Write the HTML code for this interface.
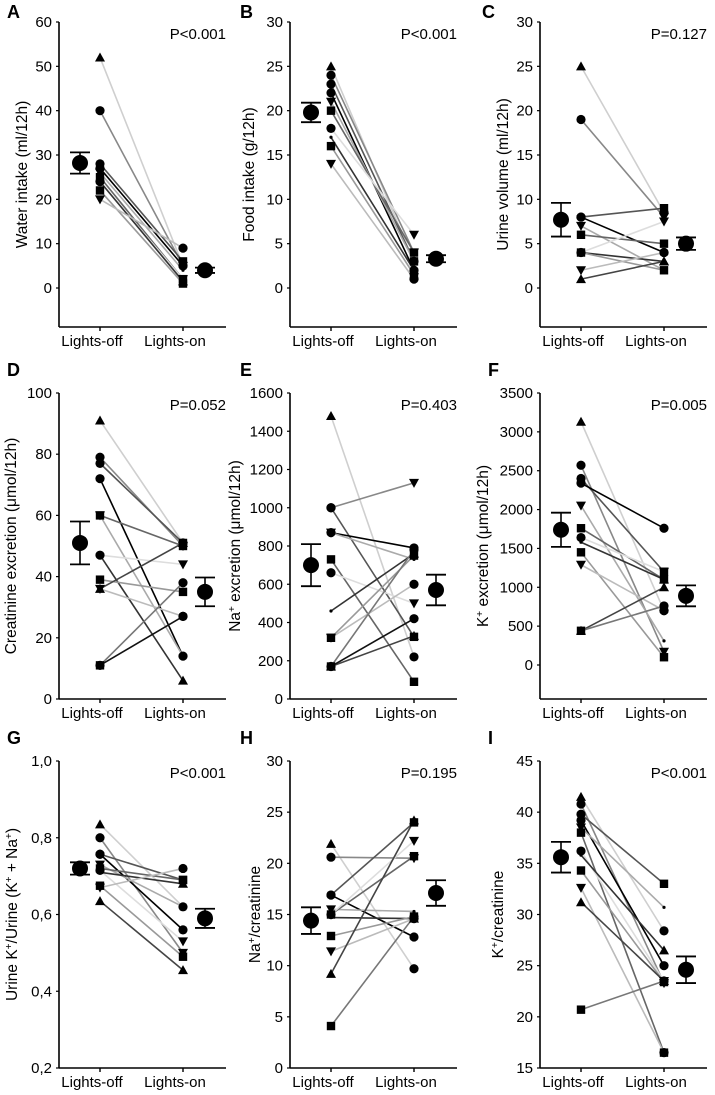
<!DOCTYPE html>
<html><head><meta charset="utf-8"><style>
body{margin:0;background:#fff;}
svg{display:block;font-family:"Liberation Sans",Arial,sans-serif;}
</style></head><body>
<svg id="fig" width="715" height="1095" viewBox="0 0 715 1095" xmlns="http://www.w3.org/2000/svg"></svg>
<script>
// ---- data ----
const aOff=[52,40,28,27,26,25,24,24,22,20];
const aOn=[5,5,6,5,4,2,2,1.5,1,9];
const aMean=[28.2,4.0]; const aErr=[2.4,0.6];
const bOff=[25,24,23,22,21,20,18,17,16,14];
const bOn=[3,4,3,2,3,4,6,2,1.5,1];
const bMean=[19.8,3.3]; const bErr=[1.1,0.4];
const cOff=[25,19,8,8,7,6,4,4,4,2,1];
const cOn=[8.5,8,9,4,2,5,7.5,3,2,4,3];
const cMean=[7.7,5.0]; const cErr=[1.9,0.7];
const dOff=[91,79,77,72,60,60,47,47,39,36,36,11,11];
const dOn=[51,50,51,14,14,50,44,6,35,27,51,38,27];
const dMean=[51,35]; const dErr=[7,4.7];
const eOff=[1480,1000,1000,870,870,730,660,460,320,320,170,170,170];
const eOn=[220,1130,325,790,730,90,500,760,750,600,330,780,420];
const eMean=[700,570]; const eErr=[110,80];
const fOff=[3130,2570,2400,2340,2050,1760,1640,1580,1450,1290,440,440];
const fOn=[700,170,1200,1760,310,1100,1200,1100,100,700,1000,760];
const fMean=[1740,890]; const fErr=[220,135];
const gOff=[0.835,0.80,0.757,0.757,0.73,0.72,0.715,0.71,0.675,0.67,0.635];
const gOn=[0.62,0.50,0.69,0.56,0.62,0.69,0.53,0.68,0.49,0.72,0.455];
const gMean=[0.72,0.59]; const gErr=[0.016,0.025];
const hOff=[21.9,20.6,16.9,16.9,15.5,15,15,14.7,12.9,11.4,9.2,4.1];
const hOn=[9.7,20.5,24,12.8,15.3,20.7,22.2,14.6,14.8,14.6,24.2,14.8];
const hMean=[14.4,17.1]; const hErr=[1.3,1.25];
const iOff=[41.5,40.8,39.8,39.2,38.5,38,36.2,35.8,34.3,32.6,31.2,20.7];
const iOn=[28.4,23.3,33,25,30.7,16.5,23.5,26.5,23.4,16.5,23.5,23.5];
const iMean=[35.6,24.6]; const iErr=[1.5,1.3];

const NS="http://www.w3.org/2000/svg";
const svg=document.getElementById('fig');
function mk(tag,attrs,parent){const e=document.createElementNS(NS,tag);for(const k in attrs)e.setAttribute(k,attrs[k]);(parent||svg).appendChild(e);return e;}
const shapesCycle=['tri','circ','circ','circ','tdown','sq','circ','dot','sq','tdown','tri','sq','circ'];
const greys=['#cfcfcf','#888','#555','#000','#aaa','#666','#ddd','#333','#999','#bbb','#444','#777','#111'];

function marker(g,x,y,s,name){
  let e;
  if(s==='circ'){e=mk('circle',{cx:x,cy:y,r:4.6,fill:'#000'},g);}
  else if(s==='sq'){e=mk('rect',{x:x-4.2,y:y-4.2,width:8.4,height:8.4,fill:'#000'},g);}
  else if(s==='tri'){e=mk('polygon',{points:`${x},${y-5} ${x-5},${y+4} ${x+5},${y+4}`,fill:'#000'},g);}
  else if(s==='tdown'){e=mk('polygon',{points:`${x},${y+5} ${x-5},${y-4} ${x+5},${y-4}`,fill:'#000'},g);}
  else {e=mk('circle',{cx:x,cy:y,r:1.6,fill:'#000'},g);}
  
  
}

function panel(p){
  const g=mk('g',{});
  
  
  const ax=p.ax, top=p.top, bot=p.bot, xEnd=ax+167;
  const yS=v=>p.y0px-(v-p.v0)/(p.vTop-p.v0)*(p.y0px-top);
  const xOff=ax+41, xOn=ax+124, xmOff=ax+21, xmOn=ax+146;
  const L=mk('text',{x:p.lx,y:p.ly,'font-size':18,'font-weight':'bold'},g);L.textContent=p.letter;
  
  const ya=mk('line',{x1:ax,y1:top,x2:ax,y2:bot,stroke:'#000','stroke-width':1.6},g);
  
  const xa=mk('line',{x1:ax,y1:bot,x2:xEnd,y2:bot,stroke:'#000','stroke-width':1.6},g);
  
  p.ticks.forEach(t=>{
    const y=yS(t);
    mk('line',{x1:ax-3,y1:y,x2:ax,y2:y,stroke:'#000','stroke-width':1.2},g);
    const tx=mk('text',{x:ax-7,y:y+5,'font-size':15,'text-anchor':'end'},g);
    tx.textContent=p.fmt?p.fmt(t):String(t);
    
  });
  [[xOff,'Lights-off'],[xOn,'Lights-on']].forEach(([x,s])=>{
    mk('line',{x1:x,y1:bot,x2:x,y2:bot+4,stroke:'#000','stroke-width':1.4},g);
    const tx=mk('text',{x:x-8,y:bot+19,'font-size':15,'text-anchor':'middle'},g);tx.textContent=s;
    
  });
  const cy=(top+bot)/2, tx0=ax-p.toff+5;
  const tt=mk('text',{x:tx0,y:cy,'font-size':15.5,'text-anchor':'middle',transform:`rotate(-90 ${tx0} ${cy})`},g);
  tt.innerHTML=p.title;
  
  const pv=mk('text',{x:xEnd,y:top+17,'font-size':15,'text-anchor':'end'},g);pv.textContent=p.pval;
  
  for(let i=0;i<p.off.length;i++){
    const ln=mk('line',{x1:xOff,y1:yS(p.off[i]),x2:xOn,y2:yS(p.on[i]),stroke:greys[i%greys.length],'stroke-width':1.6},g);
    
  }
  for(let i=0;i<p.off.length;i++){
    marker(g,xOff,yS(p.off[i]),shapesCycle[i%shapesCycle.length],'point-lights-off');
    marker(g,xOn,yS(p.on[i]),shapesCycle[(i+3)%shapesCycle.length],'point-lights-on');
  }
  [[xmOff,0],[xmOn,1]].forEach(([x,k])=>{
    const m=p.mean[k], e=p.err[k];
    const gg=mk('g',{},g);
    
    mk('line',{x1:x,y1:yS(m-e),x2:x,y2:yS(m+e),stroke:'#000','stroke-width':1.6},gg);
    mk('line',{x1:x-10,y1:yS(m-e),x2:x+10,y2:yS(m-e),stroke:'#000','stroke-width':1.8},gg);
    mk('line',{x1:x-10,y1:yS(m+e),x2:x+10,y2:yS(m+e),stroke:'#000','stroke-width':1.8},gg);
    mk('circle',{cx:x,cy:yS(m),r:8,fill:'#000'},gg);
  });
}
const r=(a,b,s)=>{const o=[];for(let v=a;v<=b+1e-9;v+=s)o.push(Math.round(v*100)/100);return o;};
const sup='<tspan baseline-shift="super" font-size="10">+</tspan>';
const c1=59,c2=290,c3=540;
panel({letter:'A',lx:7,ly:18,toff:37,ax:c1,top:22,bot:327,y0px:288,v0:0,vTop:60,ticks:r(0,60,10),title:'Water intake (ml/12h)',pval:'P<0.001',off:aOff,on:aOn,mean:aMean,err:aErr});
panel({letter:'B',lx:240,ly:18,toff:41,ax:c2,top:22,bot:327,y0px:288,v0:0,vTop:30,ticks:r(0,30,5),title:'Food intake (g/12h)',pval:'P<0.001',off:bOff,on:bOn,mean:bMean,err:bErr});
panel({letter:'C',lx:482,ly:18,toff:37,ax:c3,top:22,bot:327,y0px:288,v0:0,vTop:30,ticks:r(0,30,5),title:'Urine volume (ml/12h)',pval:'P=0.127',off:cOff,on:cOn,mean:cMean,err:cErr});
panel({letter:'D',lx:7,ly:376,toff:48,ax:c1,top:393,bot:699,y0px:699,v0:0,vTop:100,ticks:r(0,100,20),title:'Creatinine excretion (μmol/12h)',pval:'P=0.052',off:dOff,on:dOn,mean:dMean,err:dErr});
panel({letter:'E',lx:240,ly:376,toff:55,ax:c2,top:393,bot:699,y0px:699,v0:0,vTop:1600,ticks:r(0,1600,200),title:'Na'+sup+' excretion (μmol/12h)',pval:'P=0.403',off:eOff,on:eOn,mean:eMean,err:eErr});
panel({letter:'F',lx:488,ly:376,toff:57,ax:c3,top:393,bot:699,y0px:665,v0:0,vTop:3500,ticks:r(0,3500,500),title:'K'+sup+' excretion (μmol/12h)',pval:'P=0.005',off:fOff,on:fOn,mean:fMean,err:fErr});
panel({letter:'G',lx:7,ly:744,toff:47,ax:c1,top:761,bot:1068,y0px:1068,v0:0.2,vTop:1.0,ticks:r(0.2,1.0,0.2),fmt:v=>v.toFixed(1).replace('.',','),title:'Urine K'+sup+'/Urine (K'+sup+' + Na'+sup+')',pval:'P<0.001',off:gOff,on:gOn,mean:gMean,err:gErr});
panel({letter:'H',lx:240,ly:744,toff:35,ax:c2,top:761,bot:1068,y0px:1068,v0:0,vTop:30,ticks:r(0,30,5),title:'Na'+sup+'/creatinine',pval:'P=0.195',off:hOff,on:hOn,mean:hMean,err:hErr});
panel({letter:'I',lx:488,ly:744,toff:42,ax:c3,top:761,bot:1068,y0px:1068,v0:15,vTop:45,ticks:r(15,45,5),title:'K'+sup+'/creatinine',pval:'P<0.001',off:iOff,on:iOn,mean:iMean,err:iErr});
</script>
</body></html>
